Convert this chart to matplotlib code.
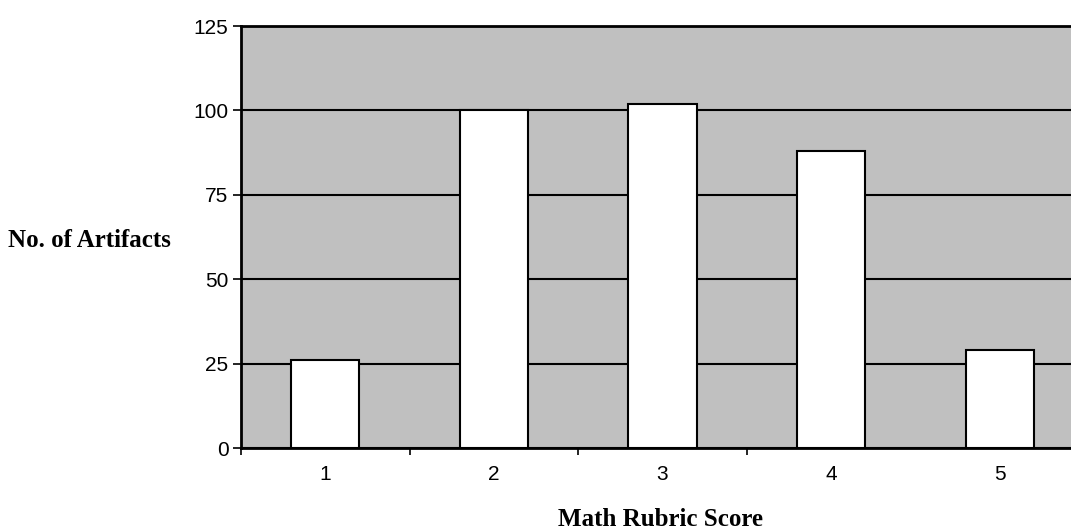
import matplotlib
matplotlib.use("Agg")
import matplotlib.pyplot as plt
from matplotlib.ticker import FixedLocator, NullFormatter

categories = ["1", "2", "3", "4", "5"]
counts = [26, 100, 102, 88, 29]
yticks = [0, 25, 50, 75, 100, 125]

W, H = 1071, 531
fig = plt.figure(figsize=(W / 100, H / 100), dpi=100)
left, right, top, bottom = 241, 1084, 26, 448.3
ax = fig.add_axes([left / W, 1 - bottom / H, (right - left) / W, (bottom - top) / H])
ax.set_facecolor("#C0C0C0")

x = list(range(1, len(categories) + 1))
ax.set_axisbelow(True)
ax.yaxis.grid(True, color="black", linewidth=1.5)
ax.bar(x, counts, width=0.405, color="white", edgecolor="black", linewidth=1.5, zorder=3)

ax.set_xlim(0.5, len(categories) + 0.5)
ax.set_ylim(0, 125)
ax.set_yticks(yticks)
ax.set_yticklabels([str(v) for v in yticks], family="Liberation Sans", fontsize=15)

ax.set_xticks(x)
ax.set_xticklabels(categories, family="Liberation Sans", fontsize=15)
ax.tick_params(axis="x", which="major", length=0, pad=12)
ax.xaxis.set_minor_locator(FixedLocator([i + 0.5 for i in range(len(categories) - 1)]))
ax.xaxis.set_minor_formatter(NullFormatter())
ax.tick_params(axis="x", which="minor", length=5, width=1.2, direction="out", color="black")
ax.tick_params(axis="y", length=6, width=1.2, direction="out", pad=3)

for s in ["left", "bottom", "top"]:
    ax.spines[s].set_color("black")
    ax.spines[s].set_linewidth(2)
ax.spines["right"].set_visible(False)

fig.text(8 / W, 1 - 240 / H, "No. of Artifacts", family="Liberation Serif",
         fontweight="bold", fontsize=18, ha="left", va="center")
fig.text(660 / W, 1 - 519 / H, "Math Rubric Score", family="Liberation Serif",
         fontweight="bold", fontsize=18, ha="center", va="center")

fig.savefig("out.png", dpi=100)
